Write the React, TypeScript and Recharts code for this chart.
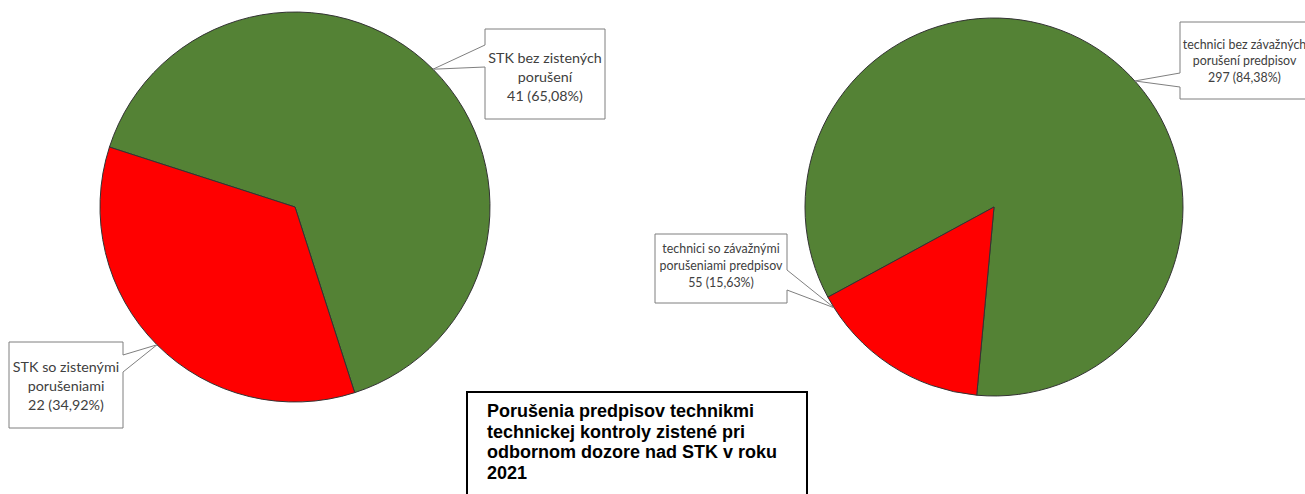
import { PieChart, Pie, Cell } from 'recharts';

// data
const leftNames = ['STK bez zistených\nporušení', 'STK so zistenými\nporušeniami'];
const leftValues = [41, 22];
const rightNames = ['technici bez závažných\nporušení predpisov', 'technici so závažnými\nporušeniami predpisov'];
const rightValues = [297, 55];
const sliceColors = ['#548235', '#FF0000'];
const titleLines = [
  'Porušenia predpisov technikmi',
  'technickej kontroly zistené pri',
  'odbornom dozore nad STK v roku',
  '2021',
];

const leftData = leftNames.map((name, i) => ({ name, value: leftValues[i] }));
const rightData = rightNames.map((name, i) => ({ name, value: rightValues[i] }));

// callout boxes (layout only)
const leftBoxes = [
  { x: 485, y: 29, w: 120, h: 90, side: 'left', a1: 45, a2: 67, shift: 0, first: 57, lineH: 19, fs: 14.3 },
  { x: 9, y: 342, w: 114, h: 86, side: 'right', a1: 355, a2: 372, shift: 0, first: 366, lineH: 19, fs: 14.3 },
];
const rightBoxes = [
  { x: 1180, y: 22, w: 129, h: 77, side: 'left', a1: 73, a2: 87, shift: -14.8, first: 44, lineH: 16.5, fs: 12.4 },
  { x: 655, y: 234, w: 132, h: 69, side: 'right', a1: 270, a2: 290, shift: -24.4, first: 248, lineH: 17, fs: 12.4 },
];

const RAD = Math.PI / 180;

function fmtPct(p: number) {
  return (Math.round(p * 10000) / 100).toFixed(2).replace('.', ',');
}

function makeLabel(boxes: any[]) {
  return (props: any) => {
    const { cx, cy, outerRadius, midAngle, index, value, percent, name } = props;
    const b = boxes[index];
    const ang = midAngle + b.shift;
    const tx = cx + Math.cos(-ang * RAD) * outerRadius;
    const ty = cy + Math.sin(-ang * RAD) * outerRadius;
    const { x, y, w, h, a1, a2 } = b;
    let d = '';
    if (b.side === 'left') {
      d = `M${x},${y} H${x + w} V${y + h} H${x} V${a2} L${tx},${ty} L${x},${a1} Z`;
    } else {
      d = `M${x},${y} H${x + w} V${a1} L${tx},${ty} L${x + w},${a2} V${y + h} H${x} Z`;
    }
    const lines = String(name).split('\n').concat(`${value} (${fmtPct(percent)}%)`);
    return (
      <g>
        <path d={d} fill="#fff" stroke="#7f7f7f" strokeWidth={1} />
        {lines.map((ln, i) => (
          <text
            key={i}
            x={x + w / 2}
            y={b.first + i * b.lineH}
            textAnchor="middle"
            dominantBaseline="central"
            fontFamily="Lato, sans-serif"
            fontSize={b.fs}
            fill="#404040"
          >
            {ln}
          </text>
        ))}
      </g>
    );
  };
}

export default function App() {
  return (
    <div style={{ position: 'absolute', left: 0, top: 0, width: 1305, height: 494, background: '#fff', overflow: 'hidden' }}>
      <PieChart width={1305} height={494} margin={{ top: 0, right: 0, bottom: 0, left: 0 }}>
        <Pie
          data={leftData}
          dataKey="value"
          nameKey="name"
          cx={295}
          cy={207}
          outerRadius={195}
          startAngle={-197.9}
          endAngle={-557.9}
          stroke="#333"
          strokeWidth={1}
          label={makeLabel(leftBoxes)}
          labelLine={false}
          isAnimationActive={false}
        >
          {leftData.map((d, i) => (
            <Cell key={d.name} fill={sliceColors[i]} />
          ))}
        </Pie>
        <Pie
          data={rightData}
          dataKey="value"
          nameKey="name"
          cx={994}
          cy={207}
          outerRadius={189}
          startAngle={-151.5}
          endAngle={-511.5}
          stroke="#333"
          strokeWidth={1}
          label={makeLabel(rightBoxes)}
          labelLine={false}
          isAnimationActive={false}
        >
          {rightData.map((d, i) => (
            <Cell key={d.name} fill={sliceColors[i]} />
          ))}
        </Pie>
      </PieChart>
      <div
        style={{
          position: 'absolute',
          left: 466,
          top: 391,
          width: 342,
          height: 120,
          border: '2px solid #000',
          background: '#fff',
          boxSizing: 'border-box',
          padding: '8px 0 0 19px',
          fontFamily: '"Liberation Sans", Arial, sans-serif',
          fontWeight: 'bold',
          fontSize: 18,
          lineHeight: '20.5px',
          color: '#000',
          whiteSpace: 'nowrap',
        }}
      >
        {titleLines.map((t) => (
          <div key={t}>{t}</div>
        ))}
      </div>
    </div>
  );
}
